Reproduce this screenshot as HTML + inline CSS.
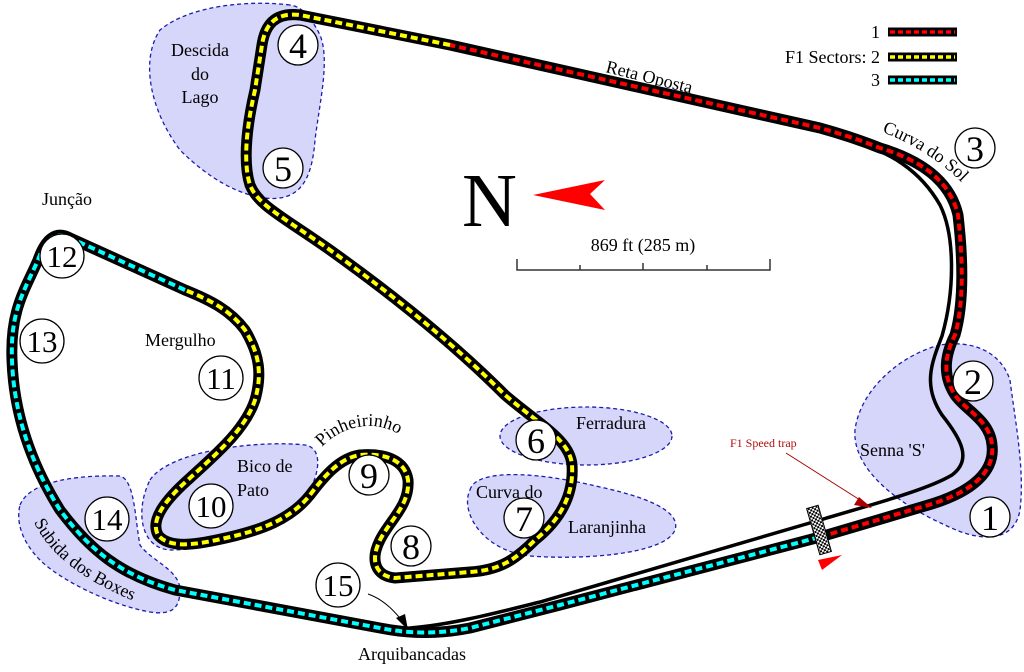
<!DOCTYPE html>
<html><head><meta charset="utf-8"><style>
html,body{margin:0;padding:0;background:#fff;}
svg{display:block;font-family:"Liberation Serif",serif;}
</style></head><body>
<svg width="1024" height="672" viewBox="0 0 1024 672" xmlns="http://www.w3.org/2000/svg">
<defs>
<pattern id="chk" width="4" height="4" patternUnits="userSpaceOnUse"><rect width="4" height="4" fill="#fff"/><rect width="2" height="2" fill="#000"/><rect x="2" y="2" width="2" height="2" fill="#000"/></pattern>
<path id="pinh" d="M322 447 C345 422 395 410 428 465" fill="none"/>
<path id="subi" d="M34 522 C50 558 95 590 165 612" fill="none"/>
<path id="sol" d="M882 132 C925 148 960 175 985 210" fill="none"/>
</defs>
<g fill="#d6d6fa" stroke="#1c1cae" stroke-width="1.3" stroke-dasharray="4 3">
<path d="M290 5 C250 0 190 5 160 30 C140 60 150 110 180 150 C210 180 240 195 265 198 C300 202 312 180 315 140 C320 100 330 60 320 35 C310 15 300 6 290 5Z"/>
<path d="M940 345 C900 355 860 390 855 430 C852 470 900 505 945 525 C985 545 1015 540 1020 510 C1025 470 1015 420 1010 380 C1000 350 970 340 940 345Z"/>
<ellipse cx="586" cy="436" rx="86" ry="29"/>
<path d="M470 490 C475 470 530 470 600 487 C660 500 680 515 675 530 C665 555 580 560 530 556 C480 550 460 510 470 490Z"/>
<path d="M150 480 C170 450 260 440 305 445 C325 448 320 480 300 505 C280 530 210 550 170 550 C140 548 135 510 150 480Z"/>
<path d="M20 505 C30 480 80 475 120 476 C135 480 135 520 140 545 C150 560 180 570 180 590 C180 610 170 615 150 612 C110 605 60 580 40 560 C25 545 15 525 20 505Z"/>
</g>
<path d="M720 102 L850 140 C890 152 920 170 940 205 C955 235 955 290 942 336 C932 362 922 385 942 415 C962 440 972 460 952 475 C927 490 870 505 820 520 L540 602 C500 612 450 625 410 628" fill="none" stroke="#000" stroke-width="3.5"/>
<g fill="none" stroke-linejoin="round">
<path d="M820 537 L925 506 C975 492 995 470 992 445 C990 420 965 410 955 395 C942 375 945 355 955 335 C965 300 962 250 958 215 C950 180 920 160 880 148 C860 140 845 135 820 128 L450 45 L300 15 C275 12 265 25 262 45 L255 90 C248 120 242 160 250 185 C258 205 280 215 330 250 C400 300 460 350 505 395 C540 425 570 440 572 465 C574 495 560 520 535 540 C515 560 500 570 470 572 L395 578 C375 576 370 560 380 540 C390 520 410 505 408 480 C405 460 385 453 360 455 C340 458 325 475 310 495 C290 520 260 530 230 537 C200 544 170 550 158 535 C150 520 165 500 190 478 C215 455 245 430 255 400 C262 375 260 355 245 330 C230 310 210 300 185 290 L70 238 C55 230 45 240 38 260 C25 290 10 310 12 360 C14 420 35 470 60 510 C90 550 120 575 175 590 L380 628 C410 634 440 634 470 628 L560 605 L820 537" stroke="#000" stroke-width="11"/>
<g stroke-width="4" stroke-dasharray="7 4">
<path d="M820 537 L925 506 C975 492 995 470 992 445 C990 420 965 410 955 395 C942 375 945 355 955 335 C965 300 962 250 958 215 C950 180 920 160 880 148 C860 140 845 135 820 128 L450 45" stroke="#f00"/>
<path d="M450 45 L300 15 C275 12 265 25 262 45 L255 90 C248 120 242 160 250 185 C258 205 280 215 330 250 C400 300 460 350 505 395 C540 425 570 440 572 465 C574 495 560 520 535 540 C515 560 500 570 470 572 L395 578 C375 576 370 560 380 540 C390 520 410 505 408 480 C405 460 385 453 360 455 C340 458 325 475 310 495 C290 520 260 530 230 537 C200 544 170 550 158 535 C150 520 165 500 190 478 C215 455 245 430 255 400 C262 375 260 355 245 330 C230 310 210 300 185 290" stroke="#ff0"/>
<path d="M185 290 L70 238 C55 230 45 240 38 260 C25 290 10 310 12 360 C14 420 35 470 60 510 C90 550 120 575 175 590 L380 628 C410 634 440 634 470 628 L560 605 L820 537" stroke="#0ff"/>
</g>
</g>
<rect x="813" y="506" width="12" height="48" fill="url(#chk)" stroke="#000" stroke-width="1" transform="rotate(-16 819 530)"/>
<polygon points="818,560 842,555 822,570" fill="#f00"/>
<line x1="786" y1="453" x2="860" y2="500" stroke="#a00" stroke-width="1"/>
<polygon points="872,508 854,505 859,497" fill="#a00"/>
<text x="730" y="447" font-size="12" fill="#b01010">F1 Speed trap</text>
<path d="M368 594 C385 600 395 612 405 624" fill="none" stroke="#000" stroke-width="1"/>
<polygon points="408,630 396,618 405,614" fill="#000"/>
<text x="462" y="226" font-size="76">N</text>
<polygon points="533,195 605,180 590,194 605,210" fill="#f00"/>
<text x="643" y="251" font-size="18" text-anchor="middle">869 ft (285 m)</text>
<path d="M517 259 V270 H770 V259 M580 265 V270 M643 263 V270 M707 265 V270" fill="none" stroke="#333" stroke-width="1.5"/>
<text x="880" y="38" font-size="18" text-anchor="end">1</text>
<text x="880" y="63" font-size="18" text-anchor="end">F1 Sectors: 2</text>
<text x="880" y="86" font-size="18" text-anchor="end">3</text>
<g stroke-width="9"><line x1="888" y1="32" x2="957" y2="32" stroke="#000"/><line x1="888" y1="57" x2="957" y2="57" stroke="#000"/><line x1="888" y1="80" x2="957" y2="80" stroke="#000"/></g>
<g stroke-width="3.5" stroke-dasharray="5 3"><line x1="890" y1="32" x2="955" y2="32" stroke="#f00"/><line x1="890" y1="57" x2="955" y2="57" stroke="#ff0"/><line x1="890" y1="80" x2="955" y2="80" stroke="#0ff"/></g>
<g fill="#fff" stroke="#000" stroke-width="1.3">
<circle cx="298" cy="45" r="20"/><circle cx="283" cy="168" r="20"/><circle cx="975" cy="148" r="20"/>
<circle cx="973" cy="381" r="20"/><circle cx="990" cy="517" r="20"/><circle cx="536" cy="440" r="20"/>
<circle cx="524" cy="518" r="20"/><circle cx="411" cy="546" r="20"/><circle cx="369" cy="475" r="20"/>
<circle cx="211" cy="506" r="22"/><circle cx="221" cy="378" r="22"/><circle cx="62" cy="256" r="22"/>
<circle cx="42" cy="341" r="22"/><circle cx="107" cy="519" r="22"/><circle cx="338" cy="585" r="22"/>
</g>
<g font-size="36" text-anchor="middle">
<text x="298" y="58">4</text><text x="283" y="181">5</text><text x="975" y="161">3</text>
<text x="973" y="394">2</text><text x="990" y="530">1</text><text x="536" y="453">6</text>
<text x="524" y="531">7</text><text x="411" y="559">8</text><text x="369" y="488">9</text>
</g>
<g font-size="31" text-anchor="middle">
<text x="211" y="517">10</text><text x="221" y="389">11</text><text x="62" y="267">12</text>
<text x="42" y="352">13</text><text x="107" y="530">14</text><text x="338" y="596">15</text>
</g>
<g font-size="18">
<text x="200" y="56" text-anchor="middle">Descida</text>
<text x="200" y="80" text-anchor="middle">do</text>
<text x="200" y="103" text-anchor="middle">Lago</text>
<text x="42" y="205">Junção</text>
<text x="145" y="346">Mergulho</text>
<text x="237" y="472">Bico de</text>
<text x="237" y="496">Pato</text>
<text x="576" y="429">Ferradura</text>
<text x="476" y="498">Curva do</text>
<text x="568" y="533">Laranjinha</text>
<text x="860" y="456">Senna 'S'</text>
<text x="358" y="660">Arquibancadas</text>
<text x="605" y="72" transform="rotate(14 605 72)">Reta Oposta</text>
<text><textPath href="#sol">Curva do Sol</textPath></text>
<text><textPath href="#pinh">Pinheirinho</textPath></text>
<text><textPath href="#subi">Subida dos Boxes</textPath></text>
</g>
</svg>
</body></html>
